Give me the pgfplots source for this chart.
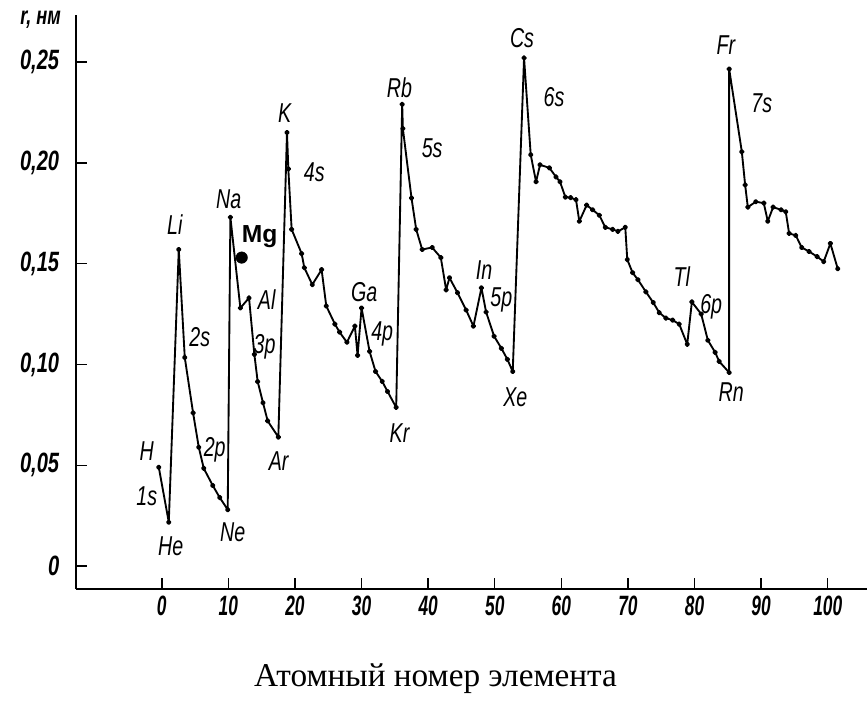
\documentclass[border=0pt]{standalone}
\usepackage{fontspec}
\setmainfont{Liberation Serif}
\newfontfamily\lab[FakeStretch=0.72]{Liberation Sans}
\newfontfamily\tck[FakeStretch=0.62]{Liberation Sans}
\newfontfamily\ytck[FakeStretch=0.72]{Liberation Sans}
\newfontfamily\mgf{Liberation Sans}
\usepackage{pgfplots}
\pgfplotsset{compat=1.18}
\pgfplotstableread{
x y
-0.45 0.049
1.05 0.0218
2.55 0.157
3.45 0.1035
4.7 0.076
5.55 0.059
6.3 0.0485
7.65 0.040
8.7 0.034
9.9 0.028
10.3 0.173
11.8 0.128
13.1 0.133
13.9 0.105
14.4 0.0915
15.2 0.081
15.9 0.072
17.5 0.064
18.8 0.215
19.0 0.197
19.5 0.167
21.0 0.155
21.4 0.148
22.6 0.1396
24.0 0.147
24.7 0.129
26.0 0.120
26.7 0.116
27.8 0.111
29.0 0.119
29.4 0.1045
30.0 0.128
31.2 0.1065
32.1 0.0965
33.1 0.0916
33.9 0.0866
35.2 0.0787
36.1 0.229
36.2 0.217
37.5 0.1825
38.2 0.167
39.1 0.157
40.6 0.158
41.9 0.153
42.7 0.137
43.2 0.143
44.4 0.1356
45.7 0.127
46.8 0.119
48.0 0.138
48.7 0.126
49.9 0.114
51.0 0.108
51.9 0.1025
52.7 0.0965
54.4 0.252
55.4 0.204
56.2 0.1906
56.8 0.199
58.2 0.1975
59.2 0.193
59.8 0.1906
60.6 0.183
61.4 0.1827
62.2 0.1817
62.7 0.171
63.8 0.179
64.7 0.1767
65.7 0.174
66.6 0.168
67.7 0.167
68.5 0.166
69.6 0.168
69.9 0.152
70.7 0.1455
71.5 0.142
72.7 0.136
73.8 0.1307
74.7 0.1257
75.7 0.123
76.7 0.122
77.7 0.120
78.9 0.110
79.6 0.131
81.0 0.125
82.0 0.112
83.1 0.106
83.7 0.1015
85.2 0.096
85.2 0.2465
87.1 0.2055
87.6 0.189
88.0 0.178
89.2 0.1807
90.4 0.180
91.0 0.171
91.8 0.178
93.0 0.1767
93.7 0.1757
94.2 0.165
95.2 0.164
96.1 0.158
97.2 0.156
98.4 0.1535
99.4 0.151
100.4 0.160
101.5 0.1475
}\radii
\begin{document}
\begin{tikzpicture}
\begin{axis}[
  scale only axis, width=594pt, height=431.25pt,
  xmin=-12.9, xmax=105.85, ymin=-0.01139, ymax=0.2733,
  axis x line=bottom, axis y line=left,
  axis line style={-, line width=2pt},
  xtick={0,10,20,30,40,50,60,70,80,90,100},
  xticklabels={0,10,20,30,40,50,60,70,80,90,100},
  ytick={0,0.05,0.1,0.15,0.2,0.25},
  yticklabels={0,{0,05},{0,10},{0,15},{0,20},{0,25}},
  tick align=inside, major tick length=8pt,
  tick style={line width=1.1pt, black},
  minor tick num=0,
  xticklabel style={font=\tck\bfseries\itshape\fontsize{21}{21}\selectfont, yshift=-2pt},
  yticklabel style={font=\ytck\bfseries\itshape\fontsize{21}{21}\selectfont, xshift=-9pt},
  /pgf/number format/assume math mode=true,
  clip=false,
]
\addplot[black, line width=1.4pt, line join=round, mark=*, mark size=1.35pt] table[x=x,y=y] {\radii};
\addplot[only marks, black, mark=*, mark size=4.3pt] coordinates {(12.0,0.153)};
\begin{scope}[every node/.style={font=\lab\itshape\fontsize{20.5}{20.5}\selectfont, inner sep=0pt}]
\node at (axis cs:-18.2,0.2708) {\bfseries\fontsize{19}{19}\selectfont r, нм};
\node at (axis cs:-2.25,0.0569) {H};
\node at (axis cs:-2.25,0.0347) {1s};
\node at (axis cs:1.35,0.0099) {He};
\node at (axis cs:1.95,0.1693) {Li};
\node at (axis cs:5.7,0.1134) {2s};
\node at (axis cs:7.95,0.0579) {2p};
\node at (axis cs:10.65,0.0168) {Ne};
\node at (axis cs:10.05,0.1817) {Na};
\node at (axis cs:15.75,0.1322) {Al};
\node at (axis cs:15.45,0.1089) {3p};
\node at (axis cs:17.55,0.052) {Ar};
\node at (axis cs:18.45,0.2248) {K};
\node at (axis cs:22.9,0.1955) {4s};
\node at (axis cs:30.4,0.1361) {Ga};
\node at (axis cs:33.1,0.1149) {4p};
\node at (axis cs:35.7,0.0658) {Kr};
\node at (axis cs:35.7,0.2371) {Rb};
\node at (axis cs:40.6,0.2074) {5s};
\node at (axis cs:48.4,0.147) {In};
\node at (axis cs:51.0,0.1322) {5p};
\node at (axis cs:53.1,0.0837) {Xe};
\node at (axis cs:54.1,0.2619) {Cs};
\node at (axis cs:58.9,0.2327) {6s};
\node at (axis cs:78.1,0.1436) {Tl};
\node at (axis cs:82.5,0.1287) {6p};
\node at (axis cs:85.5,0.0861) {Rn};
\node at (axis cs:84.7,0.2584) {Fr};
\node at (axis cs:90.1,0.2297) {7s};
\end{scope}
\node[anchor=base west, inner sep=0pt, font=\mgf\bfseries\fontsize{18.5}{18.5}\selectfont] at (axis cs:12.0,0.1604) {Mg};
\node[font=\fontsize{25}{25}\selectfont, inner sep=0pt] at (axis cs:41.1,-0.0560) {Атомный номер элемента};
\end{axis}
\path (-57pt,-85.5pt) rectangle (594pt,442.5pt);
\end{tikzpicture}
\end{document}
